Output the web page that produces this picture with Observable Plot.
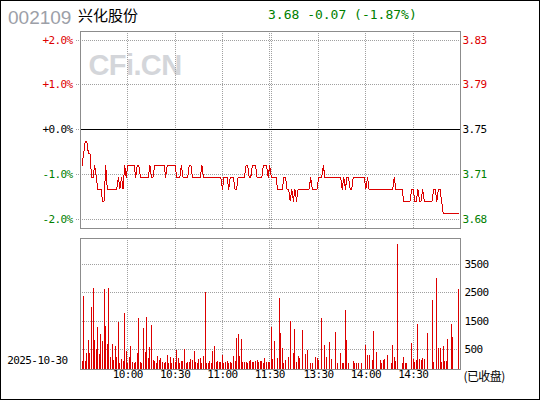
<!DOCTYPE html>
<html>
<head>
<meta charset="utf-8">
<script src="https://cdn.jsdelivr.net/npm/d3@7"></script>
<script src="https://cdn.jsdelivr.net/npm/@observablehq/plot@0.6"></script>
<style>
html, body { margin: 0; padding: 0; background: #fff; }
#wrap { position: relative; width: 540px; height: 400px; overflow: hidden; background: #fff; }
#wrap svg { position: absolute; left: 0; top: 0; background: transparent; }
#border { position: absolute; left: 0; top: 0; width: 540px; height: 400px; box-sizing: border-box; border: 1px solid #000; pointer-events: none; }
</style>
</head>
<body>
<div id="wrap"></div>
<script>
// ---------- data ----------
const stockCode = "002109";
const stockName = "兴化股份";
const quoteText = "3.68 -0.07 (-1.87%)";
const dateLabel = "2025-10-30";
const closedLabel = "(已收盘)";
const prevClose = 3.75;

const pctTicks = [2, 1, 0, -1, -2];
const pctLabels = ["+2.0%", "+1.0%", "+0.0%", "-1.0%", "-2.0%"];
const priceLabels = ["3.83", "3.79", "3.75", "3.71", "3.68"];
const tickColors = ["#dd0000", "#dd0000", "#000000", "#008000", "#008000"];

// minute slots: 9:30 = 0 ... 11:30 = 120, 13:00 = 121 ... 15:00 = 241
const timeSlots = [30, 60, 90, 120, 151, 181, 211];
const timeLabels = ["10:00", "10:30", "11:00", "11:30", "13:30", "14:00", "14:30"];
const gridSlots = [30, 60, 90, 120, 121, 151, 181, 211];

const volTicks = [3500, 2500, 1500, 500];
const volLabels = ["3500", "2500", "1500", "500"];

// last price per minute, slots 1..240
const prices = [
  3.72,3.73,3.74,3.74,3.73,3.73,3.71,3.71,3.72,3.71,
  3.70,3.70,3.70,3.69,3.69,3.72,3.70,3.70,3.70,3.70,
  3.70,3.70,3.70,3.71,3.70,3.71,3.70,3.72,3.71,3.72,
  3.72,3.72,3.72,3.72,3.71,3.72,3.72,3.71,3.71,3.71,
  3.71,3.71,3.71,3.72,3.71,3.71,3.72,3.72,3.72,3.72,
  3.72,3.72,3.72,3.71,3.72,3.72,3.72,3.72,3.72,3.72,
  3.71,3.71,3.71,3.72,3.71,3.71,3.71,3.71,3.72,3.72,
  3.71,3.71,3.71,3.71,3.71,3.71,3.72,3.71,3.71,3.71,
  3.71,3.71,3.71,3.71,3.71,3.71,3.71,3.71,3.71,3.70,
  3.71,3.71,3.71,3.70,3.71,3.71,3.71,3.70,3.70,3.71,
  3.71,3.71,3.71,3.71,3.72,3.72,3.71,3.71,3.72,3.72,
  3.72,3.71,3.71,3.71,3.71,3.72,3.72,3.72,3.71,3.72,
  3.71,3.71,3.71,3.71,3.70,3.70,3.70,3.70,3.71,3.71,
  3.70,3.70,3.69,3.70,3.69,3.70,3.69,3.70,3.70,3.70,
  3.70,3.70,3.70,3.70,3.70,3.71,3.70,3.70,3.70,3.70,
  3.71,3.71,3.71,3.72,3.71,3.71,3.71,3.71,3.71,3.71,
  3.71,3.71,3.71,3.71,3.71,3.70,3.71,3.70,3.71,3.71,
  3.70,3.70,3.71,3.71,3.71,3.71,3.71,3.71,3.71,3.71,
  3.70,3.71,3.70,3.70,3.70,3.70,3.70,3.70,3.70,3.70,
  3.70,3.70,3.70,3.70,3.70,3.70,3.70,3.70,3.71,3.70,
  3.70,3.70,3.70,3.70,3.69,3.69,3.69,3.69,3.69,3.70,
  3.70,3.69,3.69,3.70,3.69,3.69,3.70,3.69,3.69,3.69,
  3.69,3.69,3.69,3.70,3.70,3.69,3.70,3.70,3.69,3.68,
  3.68,3.68,3.68,3.68,3.68,3.68,3.68,3.68,3.68,3.68
];

// volume per minute, slots 1..240 (null = no trade)
const volumes = [
  70,2380,70,360,820,360,1990,2660,820,500,
  1280,320,1030,780,2620,1310,680,2660,220,680,
  110,600,220,1460,10,150,70,1770,430,10,
  220,600,40,10,40,360,1600,40,10,1240,
  390,1630,180,570,1350,110,70,10,250,110,
  180,40,10,40,290,10,220,10,180,40,
  460,180,10,70,70,500,10,40,40,150,
  110,430,40,10,150,180,10,250,2520,10,
  10,70,10,430,600,40,70,40,40,290,
  10,40,70,10,40,10,250,70,890,1030,
  250,850,40,40,40,10,70,110,40,40,
  70,110,40,70,70,10,180,40,40,40,
  1290,150,780,null,180,2310,1070,530,10,110,
  null,220,1490,null,360,1210,40,250,180,null,
  1170,null,320,460,null,10,10,null,220,180,
  110,null,1600,null,640,220,null,750,150,null,
  null,1100,10,null,360,10,10,1880,820,10,
  null,null,70,10,10,10,null,0,null,null,
  640,290,290,null,110,1140,null,390,null,110,
  10,110,150,null,290,null,10,640,220,70,
  4220,null,null,10,220,10,10,null,null,710,
  150,40,110,1380,150,110,180,150,null,1070,
  null,null,2240,40,null,3010,530,530,40,600,
  70,70,850,null,1380,920,null,null,null,2620
];

// ---------- build ----------
const priceData = prices.map((p, i) => ({slot: i + 1, pct: (p - prevClose) / prevClose * 100}));
const volData = volumes.map((v, i) => ({slot: i + 1, vol: v})).filter(d => d.vol != null);

const RED = "#dd0000";
const GRID = "#a0a0a0";
const FRAME = "#8c8c8c";
const MONO = "DejaVu Sans Mono";
const xScale = {domain: [0, 241], axis: null};
const pctDomain = [-2.212, 2.19];
const volDomain = [-206, 4418];
const baseStyle = {background: "transparent", fontFamily: MONO, fontSize: "11px", letterSpacing: "-0.6px", overflow: "visible"};
const dotted = {stroke: GRID, strokeDasharray: "1,1", shapeRendering: "crispEdges"};

const pricePlot = Plot.plot({
  width: 540, height: 229,
  marginLeft: 80, marginRight: 80, marginTop: 31, marginBottom: 1,
  x: xScale,
  y: {domain: pctDomain, axis: null},
  color: {type: "identity"},
  style: baseStyle,
  marks: [
    Plot.text(["CFi.CN"], {text: d => d, frameAnchor: "top-left", dx: 8, dy: 23, lineAnchor: "top", textAnchor: "start",
      fontSize: 29, fontWeight: "bold", fontFamily: "Liberation Sans", fill: "#d4d6da"}),
    Plot.ruleY(pctTicks, {...dotted, insetLeft: -4}),
    Plot.ruleX(gridSlots, dotted),
    Plot.ruleY([0], {stroke: "#000", shapeRendering: "crispEdges"}),
    Plot.line(priceData, {x: "slot", y: "pct", stroke: RED, strokeWidth: 1, shapeRendering: "crispEdges"}),
    Plot.frame({stroke: FRAME, shapeRendering: "crispEdges"}),
    Plot.text(pctTicks, {y: d => d, text: pctLabels, fill: tickColors, frameAnchor: "left", textAnchor: "end", dx: -8}),
    Plot.text(pctTicks, {y: d => d, text: priceLabels, fill: tickColors, frameAnchor: "right", textAnchor: "start", dx: 2})
  ]
});

const volPlot = Plot.plot({
  width: 540, height: 400,
  marginLeft: 80, marginRight: 80, marginTop: 238, marginBottom: 31,
  x: xScale,
  y: {domain: volDomain, axis: null},
  style: baseStyle,
  marks: [
    Plot.ruleY(volTicks, dotted),
    Plot.ruleX(gridSlots, dotted),
    Plot.ruleX(volData, {x: "slot", y1: () => volDomain[0], y2: "vol", stroke: RED, strokeWidth: 1, shapeRendering: "crispEdges"}),
    Plot.frame({stroke: FRAME, shapeRendering: "crispEdges"}),
    Plot.text(volTicks, {y: d => d, text: volLabels, frameAnchor: "right", textAnchor: "start", dx: 4, fill: "#000"}),
    Plot.text(timeSlots, {x: d => d, text: timeLabels, frameAnchor: "bottom", dy: 8, fill: "#000"}),
    Plot.text([dateLabel], {text: d => d, frameAnchor: "bottom-left", textAnchor: "end", dx: -13, dy: -6, fill: "#000"}),
    Plot.text([closedLabel], {text: d => d, frameAnchor: "bottom-right", textAnchor: "start", dx: 3, dy: 11,
      fontFamily: "Noto Sans CJK SC", fontSize: 12, fill: "#000"})
  ]
});

const wrap = document.getElementById("wrap");
wrap.appendChild(pricePlot);
wrap.appendChild(volPlot);

// header line
const hdr = d3.create("svg").attr("width", 540).attr("height", 30);
hdr.append("text").attr("x", 8).attr("y", 24).attr("font-family", "Liberation Sans").attr("font-size", 19)
  .attr("fill", "#9ca0a8").text(stockCode);
hdr.append("text").attr("x", 78).attr("y", 20.5).attr("font-family", "Noto Sans CJK SC").attr("font-size", 15)
  .attr("fill", "#000").text(stockName);
hdr.append("text").attr("x", 268).attr("y", 19).attr("font-family", MONO).attr("font-size", 13)
  .attr("fill", "#008000").text(quoteText);
wrap.appendChild(hdr.node());

const border = document.createElement("div");
border.id = "border";
wrap.appendChild(border);
</script>
</body>
</html>
